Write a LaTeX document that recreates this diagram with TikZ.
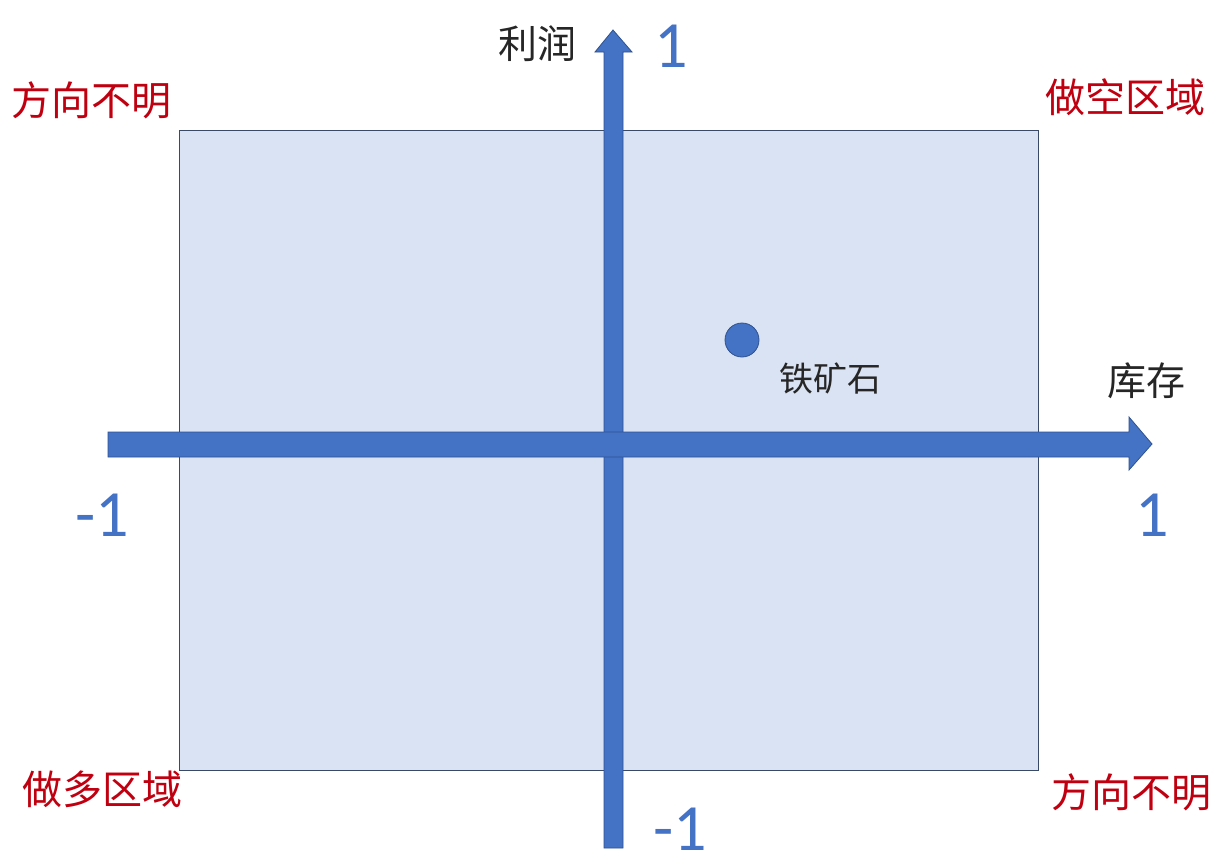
\documentclass[tikz,border=0pt]{standalone}
\usepackage{fontspec}
\newfontfamily\cjk{Noto Sans CJK SC}
\newfontfamily\numfont{Carlito}
\definecolor{axisblue}{HTML}{4472C4}
\definecolor{axisedge}{HTML}{2F528F}
\definecolor{panel}{HTML}{DAE3F3}
\definecolor{panedge}{HTML}{3A4A66}
\definecolor{zonered}{HTML}{C00010}
\begin{document}
\begin{tikzpicture}[x=1pt,y=-1pt,
  zone/.style={font=\cjk\fontsize{40}{46}\selectfont, text=zonered, inner sep=0pt},
  axlabel/.style={font=\cjk\fontsize{39}{44}\selectfont, text=black!85, inner sep=0pt},
  tick/.style={font=\numfont\fontsize{66}{70}\selectfont, text=axisblue, inner sep=0pt},
  axisshape/.style={fill=axisblue, draw=axisedge, line width=0.8pt}]
\useasboundingbox (0,0) rectangle (1216,865);
\fill[white] (0,0) rectangle (1216,865);
% panel
\node[draw=panedge, fill=panel, line width=1pt, minimum width=859pt, minimum height=640pt, inner sep=0pt, anchor=north west] (panel) at (179,130) {};
% vertical axis
\path[axisshape] (604,848) -- (604,52) -- (595,52) -- (613,30) -- (632,52) -- (623,52) -- (623,848) -- cycle;
% horizontal axis (on top)
\path[axisshape] (108,432) -- (1129,432) -- (1129,417) -- (1152,444) -- (1129,470) -- (1129,457) -- (108,457) -- cycle;
\coordinate (xtip) at (1152,444);
\coordinate (ytip) at (613,30);
% point
\node[circle, fill=axisblue, draw=axisedge, line width=0.8pt, minimum size=34pt, inner sep=0pt] (ore) at (742,340) {};
\node[font=\cjk\fontsize{34}{40}\selectfont, text=black!85, inner sep=0pt] (orelabel) at (830,378) {铁矿石};
% axis labels
\node[axlabel] (ylab) at (537,44) {利润};
\node[axlabel] (xlab) at (1146,381) {库存};
\node[tick] (ytop) at (671,46) {1};
\node[tick] (xright) at (1152,515) {1};
\node[tick] (xleft) at (102,515) {-1};
\node[tick] (ybot) at (680,829) {-1};
% zones
\node[zone] (z1) at (92,100) {方向不明};
\node[zone] (z2) at (1125,97) {做空区域};
\node[zone] (z3) at (103,789) {做多区域};
\node[zone] (z4) at (1131,792) {方向不明};
\end{tikzpicture}
\end{document}
